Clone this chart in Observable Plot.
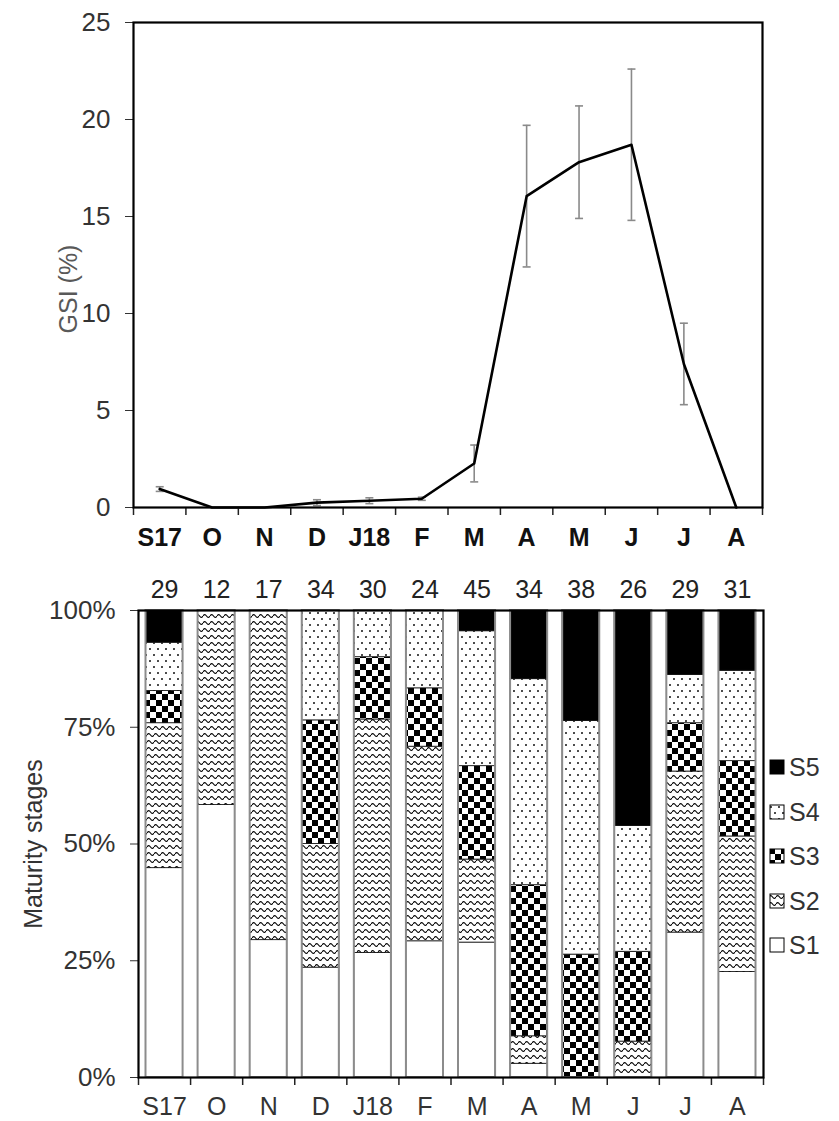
<!DOCTYPE html>
<html>
<head>
<meta charset="utf-8">
<script src="https://cdn.jsdelivr.net/npm/d3@7"></script>
<script src="https://cdn.jsdelivr.net/npm/@observablehq/plot@0.6"></script>
<style>
  body { margin: 0; background: #fff; font-family: "Liberation Sans", Arial, sans-serif; }
  #wrap { position: relative; width: 839px; height: 1121px; overflow: hidden; }
  #topChart { position: absolute; left: 0; top: 0; }
  #bottomChart { position: absolute; left: 0; top: 556px; }
  #legend { position: absolute; left: 769px; top: 752px; }
  .item { position: absolute; left: 0; display: flex; align-items: center; height: 30px; white-space: nowrap; }
  .item svg { margin-right: 4px; }
  .item span { font-size: 25px; color: #333; line-height: 30px; }
</style>
</head>
<body>
<svg width="0" height="0" style="position:absolute">
  <defs>
    <pattern id="pS2" patternUnits="userSpaceOnUse" width="7" height="7">
      <rect width="7" height="7" fill="#fff"/>
      <path d="M0,4 Q1.75,1.2 3.5,4 T7,4" fill="none" stroke="#000" stroke-width="1.05"/>
    </pattern>
    <pattern id="pS3" patternUnits="userSpaceOnUse" width="12" height="12">
      <rect width="12" height="12" fill="#fff"/>
      <rect x="0" y="0" width="6" height="6" fill="#000"/>
      <rect x="6" y="6" width="6" height="6" fill="#000"/>
    </pattern>
    <pattern id="pS4" patternUnits="userSpaceOnUse" width="8" height="12">
      <rect width="8" height="12" fill="#fff"/>
      <circle cx="2" cy="3" r="0.95" fill="#000"/>
      <circle cx="6" cy="9" r="0.95" fill="#000"/>
    </pattern>
  </defs>
</svg>
<div id="wrap">
  <div id="topChart"></div>
  <div id="bottomChart"></div>
  <div id="legend"></div>
</div>
<script>
// ---- data ----
const months = ["S17", "O", "N", "D", "J18", "F", "M", "A", "M", "J", "J", "A"];
const gsiMean = [0.95, 0, 0, 0.25, 0.35, 0.45, 2.27, 16.05, 17.8, 18.7, 7.4, 0];
const gsiErr  = [0.12, 0, 0, 0.15, 0.15, 0.08, 0.95, 3.65, 2.9, 3.9, 2.1, 0];
const gsiTicks = [0, 5, 10, 15, 20, 25];
const sampleSizes = [29, 12, 17, 34, 30, 24, 45, 34, 38, 26, 29, 31];
const stages = ["S1", "S2", "S3", "S4", "S5"];
const countS1 = [13, 7, 5, 8, 8, 7, 13, 1, 0, 0, 9, 7];
const countS2 = [9, 5, 12, 9, 15, 10, 8, 2, 0, 2, 10, 9];
const countS3 = [2, 0, 0, 9, 4, 3, 9, 11, 10, 5, 3, 5];
const countS4 = [3, 0, 0, 8, 3, 4, 13, 15, 19, 7, 3, 6];
const countS5 = [2, 0, 0, 0, 0, 0, 2, 5, 9, 12, 4, 4];
const pctTicks = [0, 25, 50, 75, 100];
const stageFills = ["#ffffff", "url(#pS2)", "url(#pS3)", "url(#pS4)", "#000000"];

const idx = d3.range(months.length);
const bounds = d3.range(-0.5, months.length, 1);
const font = "'Liberation Sans', Arial, sans-serif";

// ---- top chart: GSI ----
const gsi = idx.map(i => ({i, m: gsiMean[i], e: gsiErr[i]}));
const errs = gsi.filter(d => d.e > 0);
const capSymbol = {draw(ctx, size) { const r = Math.sqrt(size / Math.PI); ctx.moveTo(-r, 0); ctx.lineTo(r, 0); }};

const gsiPlot = Plot.plot({
  width: 839, height: 556,
  marginLeft: 133, marginRight: 77, marginTop: 22, marginBottom: 49,
  style: {fontFamily: font, background: "white", color: "#333", overflow: "visible"},
  x: {type: "linear", domain: [-0.5, months.length - 0.5]},
  y: {domain: [0, 25]},
  marks: [
    Plot.ruleX(errs, {x: "i", y1: d => d.m - d.e, y2: d => d.m + d.e, stroke: "#8a8a8a", strokeWidth: 1.6}),
    Plot.dot(errs, {x: "i", y: d => d.m + d.e, symbol: capSymbol, r: 4, stroke: "#8a8a8a", strokeWidth: 1.6}),
    Plot.dot(errs, {x: "i", y: d => d.m - d.e, symbol: capSymbol, r: 4, stroke: "#8a8a8a", strokeWidth: 1.6}),
    Plot.line(gsi, {x: "i", y: "m", stroke: "black", strokeWidth: 2.6}),
    Plot.axisY(gsiTicks, {tickSize: 8, tickPadding: 15, fontSize: 26, stroke: "#333", fill: "#333", label: null}),
    Plot.axisX(bounds, {tickSize: 8, tickFormat: () => "", stroke: "#222", strokeWidth: 1.5, label: null}),
    Plot.axisX(idx, {tickSize: 0, tickPadding: 21, tickFormat: i => months[i], fontSize: 25, fontWeight: "bold", fill: "#111", label: null}),
    Plot.text(["GSI (%)"], {text: d => d, frameAnchor: "left", textAnchor: "middle", dx: -65, dy: 24, rotate: -90, fontSize: 25, fill: "#595959"}),
    Plot.frame({stroke: "black", strokeWidth: 2.2})
  ]
});
document.getElementById("topChart").appendChild(gsiPlot);

// ---- bottom chart: maturity stages ----
const stageCounts = [countS1, countS2, countS3, countS4, countS5];
const rows = [];
stages.forEach((s, k) => idx.forEach(i => rows.push({i, stage: s, pct: 100 * stageCounts[k][i] / sampleSizes[i]})));
const totals = idx.map(i => ({i, pct: 100 * d3.sum(stageCounts, c => c[i]) / sampleSizes[i]}));

const stagePlot = Plot.plot({
  width: 839, height: 565,
  marginLeft: 138, marginRight: 76, marginTop: 54, marginBottom: 44,
  style: {fontFamily: font, background: "white", color: "#333", overflow: "visible"},
  x: {type: "linear", domain: [-0.5, months.length - 0.5]},
  y: {domain: [0, 100]},
  color: {type: "ordinal", domain: stages, range: stageFills},
  marks: [
    Plot.rectY(rows, Plot.stackY({x1: d => d.i - 0.5, x2: d => d.i + 0.5, y: "pct", fill: "stage", insetLeft: 7.5, insetRight: 7.5, stroke: "#111", strokeWidth: 0.8})),
    Plot.rectY(totals, {x1: d => d.i - 0.5, x2: d => d.i + 0.5, y: "pct", insetLeft: 7.5, insetRight: 7.5, fill: "none", stroke: "#8c8c8c", strokeWidth: 2}),
    Plot.axisY(pctTicks, {tickSize: 8, tickPadding: 15, tickFormat: d => d + "%", fontSize: 26, stroke: "#333", fill: "#333", label: null}),
    Plot.axisX(bounds, {tickSize: 8, tickFormat: () => "", stroke: "#222", strokeWidth: 1.5, label: null}),
    Plot.axisX(idx, {tickSize: 0, tickPadding: 20, tickFormat: i => months[i], fontSize: 25, fill: "#333", label: null}),
    Plot.axisX(idx, {anchor: "top", tickSize: 0, tickPadding: 13, tickFormat: i => String(sampleSizes[i]), fontSize: 25, fill: "#222", label: null}),
    Plot.text(["Maturity stages"], {text: d => d, frameAnchor: "left", textAnchor: "middle", dx: -105, rotate: -90, fontSize: 25, fill: "#333"}),
    Plot.frame({stroke: "black", strokeWidth: 2.2})
  ]
});
document.getElementById("bottomChart").appendChild(stagePlot);

// ---- legend ----
const legend = document.getElementById("legend");
stages.slice().reverse().forEach((s, j) => {
  const k = stages.indexOf(s);
  const item = document.createElement("div");
  item.className = "item";
  item.style.top = (j * 44.5) + "px";
  item.innerHTML = `<svg width="16" height="16"><rect x="1" y="1" width="14" height="14" fill="${stageFills[k]}" stroke="#000" stroke-width="1"/></svg><span>${s}</span>`;
  legend.appendChild(item);
});
</script>
</body>
</html>
